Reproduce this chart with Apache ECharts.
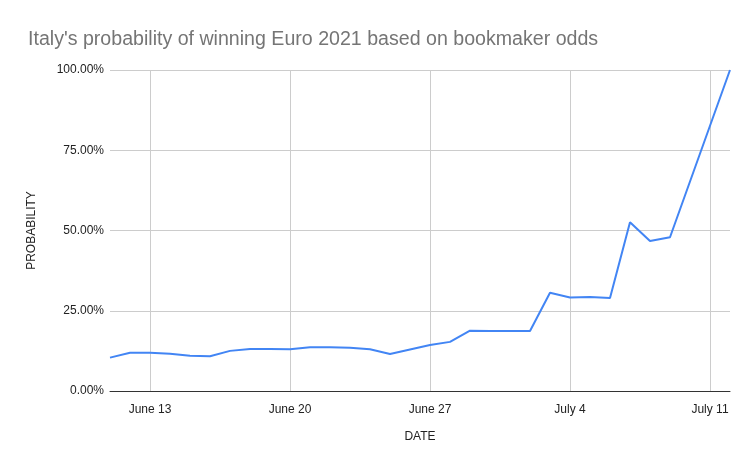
<!DOCTYPE html>
<html>
<head>
<meta charset="utf-8">
<script src="https://cdn.jsdelivr.net/npm/echarts@6/dist/echarts.min.js"></script>
<style>
html,body{margin:0;padding:0;background:#fff;}
#chart{width:754px;height:467px;}
</style>
</head>
<body>
<div id="chart"></div>
<script>
const dates = ['June 11','June 12','June 13','June 14','June 15','June 16','June 17','June 18','June 19','June 20',
  'June 21','June 22','June 23','June 24','June 25','June 26','June 27','June 28','June 29','June 30',
  'July 1','July 2','July 3','July 4','July 5','July 6','July 7','July 8','July 9','July 10','July 11','July 12'];
const probability = [10.4,11.9,11.9,11.6,11.0,10.8,12.5,13.1,13.1,13.0,
  13.6,13.6,13.5,13.0,11.5,12.9,14.3,15.3,18.8,18.7,
  18.7,18.7,30.6,29.1,29.3,29.0,52.6,46.7,47.9,null,null,100];
const tickLabels = ['June 13','June 20','June 27','July 4','July 11'];
const yTicks = [0,25,50,75,100];

const chart = echarts.init(document.getElementById('chart'));
const isTick = (i, v) => tickLabels.indexOf(dates[i]) >= 0;
chart.setOption({
  animation: false,
  backgroundColor: '#fff',
  title: {
    text: "Italy's probability of winning Euro 2021 based on bookmaker odds",
    left: 23, top: 25,
    textStyle: { fontFamily: 'Liberation Sans, Arial, sans-serif', fontSize: 19.6, fontWeight: 'normal', color: '#757575' }
  },
  grid: { left: 110, right: 24, top: 70, bottom: 76 },
  xAxis: {
    type: 'category',
    data: dates,
    boundaryGap: false,
    name: 'DATE',
    nameLocation: 'middle',
    nameGap: 40,
    nameTextStyle: { fontFamily: 'Liberation Sans, Arial, sans-serif', fontSize: 12, color: '#222' },
    axisLine: { lineStyle: { color: '#333', width: 1 } },
    axisTick: { show: false },
    axisLabel: { interval: isTick, margin: 13, fontFamily: 'Liberation Sans, Arial, sans-serif', fontSize: 12, color: '#222' },
    splitLine: { show: true, interval: isTick, lineStyle: { color: '#cccccc', width: 1 } }
  },
  yAxis: {
    type: 'value',
    min: yTicks[0], max: yTicks[yTicks.length - 1], interval: 25,
    name: 'PROBABILITY',
    nameLocation: 'middle',
    nameGap: 72,
    nameTextStyle: { fontFamily: 'Liberation Sans, Arial, sans-serif', fontSize: 12, color: '#222' },
    axisLine: { show: false },
    axisTick: { show: false },
    axisLabel: { margin: 6, formatter: v => v.toFixed(2) + '%', fontFamily: 'Liberation Sans, Arial, sans-serif', fontSize: 12, color: '#222' },
    splitLine: { lineStyle: { color: '#cccccc', width: 1 } }
  },
  series: [{
    type: 'line',
    data: probability,
    connectNulls: true,
    showSymbol: false,
    symbol: 'none',
    lineStyle: { color: '#4285F4', width: 2 },
    itemStyle: { color: '#4285F4' }
  }]
});
</script>
</body>
</html>
